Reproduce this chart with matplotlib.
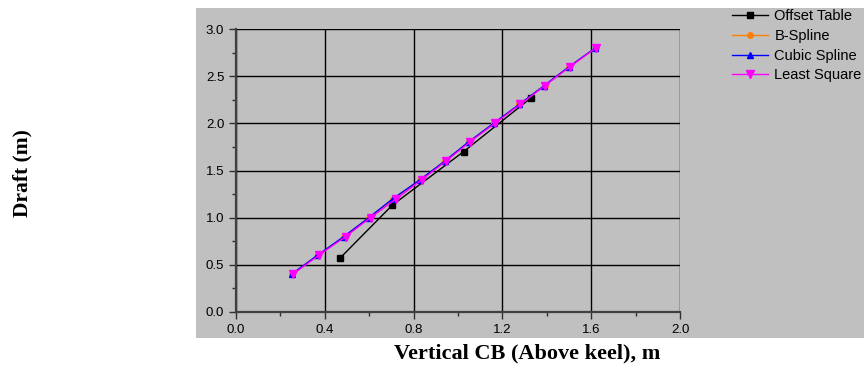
import matplotlib.pyplot as plt
from matplotlib.patches import Rectangle

# Draft values (m) and vertical centre of buoyancy for each method
draft_offset = [0.57, 1.13, 1.70, 2.27]
vcb_offset = [0.468, 0.703, 1.025, 1.329]

draft = [0.4, 0.6, 0.8, 1.0, 1.2, 1.4, 1.6, 1.8, 2.0, 2.2, 2.4, 2.6, 2.8]
vcb_bspline = [0.252, 0.368, 0.488, 0.600, 0.708, 0.830, 0.942, 1.048, 1.162, 1.277, 1.390, 1.502, 1.620]
vcb_cubic = [0.250, 0.366, 0.486, 0.598, 0.706, 0.828, 0.940, 1.046, 1.160, 1.275, 1.388, 1.500, 1.619]
vcb_lsq = [0.256, 0.372, 0.494, 0.606, 0.722, 0.836, 0.946, 1.052, 1.166, 1.280, 1.392, 1.504, 1.622]

fig = plt.figure(figsize=(8.64, 3.66), dpi=100)
fig.patch.set_facecolor('white')

# grey panel behind the plot area
fig.add_artist(Rectangle((196 / 864, 28 / 366), 668 / 864, 330 / 366,
                         transform=fig.transFigure, facecolor='#c0c0c0',
                         edgecolor='none', zorder=-5))

ax = fig.add_axes([236 / 864, 54 / 366, 444 / 864, 283 / 366])
ax.set_facecolor('#c0c0c0')
ax.set_zorder(2)

ax.plot(vcb_offset, draft_offset, color='black', marker='s', ms=4, lw=1,
        label='Offset Table', zorder=3)
ax.plot(vcb_bspline, draft, color='#ff8000', marker='o', ms=4, lw=1,
        label='B-Spline', zorder=4)
ax.plot(vcb_cubic, draft, color='blue', marker='^', ms=5, lw=1,
        label='Cubic Spline', zorder=5)
ax.plot(vcb_lsq, draft, color='magenta', marker='v', ms=6, lw=1,
        label='Least Square', zorder=6)

ax.set_xlim(0, 2.0)
ax.set_ylim(0, 3.0)
ax.set_xticks([0.0, 0.4, 0.8, 1.2, 1.6, 2.0])
ax.set_xticks([0.2, 0.6, 1.0, 1.4, 1.8], minor=True)
ax.set_yticks([0.0, 0.5, 1.0, 1.5, 2.0, 2.5, 3.0])
ax.set_yticks([0.25, 0.75, 1.25, 1.75, 2.25, 2.75], minor=True)
ax.xaxis.set_major_formatter(plt.FormatStrFormatter('%.1f'))
ax.yaxis.set_major_formatter(plt.FormatStrFormatter('%.1f'))
ax.grid(True, which='major', color='black', lw=1)
ax.set_axisbelow(True)

for side in ['top', 'right']:
    ax.spines[side].set_visible(False)
for side in ['left', 'bottom']:
    ax.spines[side].set_color('#404040')
    ax.spines[side].set_linewidth(1.6)

ax.tick_params(which='major', direction='out', length=5, width=1,
               labelsize=9.5, colors='#303030', labelcolor='black')
ax.tick_params(which='minor', direction='out', length=3, width=1, colors='#303030')
for lab in ax.get_xticklabels() + ax.get_yticklabels():
    lab.set_family('Liberation Sans')

fig.text(527 / 864, 1 - 353 / 366, 'Vertical CB (Above keel), m',
         family='Liberation Serif', weight='bold', fontsize=16,
         ha='center', va='center')
fig.text(22 / 864, 1 - 173 / 366, 'Draft (m)', family='Liberation Serif',
         weight='bold', fontsize=15.5, rotation=90, ha='center', va='center')

leg = fig.legend(loc='upper left', bbox_to_anchor=(732 / 864, 1 - 9 / 366),
                 frameon=False, prop={'family': 'Liberation Sans', 'size': 10.5},
                 handlelength=2.5, handletextpad=0.4, labelspacing=0.4,
                 borderaxespad=0, borderpad=0)
leg.set_zorder(3)

fig.savefig('out.png', dpi=100, facecolor='white')
